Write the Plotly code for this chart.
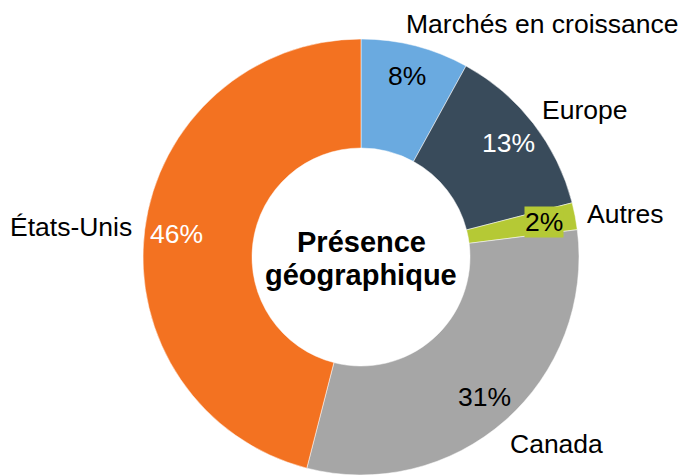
import math
import plotly.graph_objects as go

# ---- data ----
categories = ["Marchés en croissance", "Europe", "Autres", "Canada", "États-Unis"]
values = [8, 13, 2, 31, 46]
pct_labels = ["8%", "13%", "2%", "31%", "46%"]
center_title_lines = ["Présence", "géographique"]

# ---- style ----
colors = ["#6AAAE0", "#394B5B", "#B5C935", "#A6A6A6", "#F37221"]
pct_font_colors = ["#000000", "#FFFFFF", "#000000", "#000000", "#FFFFFF"]
pct_bg = [None, None, "#B5C935", None, None]
W, H = 683, 475
CX, CY, R = 361, 257, 218
LABEL_R = 0.855
FONT = "Liberation Sans, Arial, sans-serif"
FS = 26.5
TITLE_FS = 29
# outside category label positions (pixels, text centre)
cat_pos = [(541.5, 24), (584.5, 110), (625.5, 214), (556, 444), (71, 227)]
title_line_y = [242, 275]


def px_to_paper(x, y):
    return x / W, 1 - y / H


fig = go.Figure()
fig.add_trace(go.Pie(
    labels=categories,
    values=values,
    sort=False,
    direction="clockwise",
    rotation=0,
    hole=0.5,
    marker=dict(colors=colors, line=dict(color="white", width=0.5)),
    textinfo="none",
    hoverinfo="label+percent",
    showlegend=False,
    domain=dict(x=[(CX - R) / W, (CX + R) / W], y=[(H - CY - R) / H, (H - CY + R) / H]),
))

annotations = []
total = sum(values)
cum = 0
for i, v in enumerate(values):
    mid = (cum + v / 2) / total * 2 * math.pi
    cum += v
    px = CX + LABEL_R * R * math.sin(mid)
    py = CY - LABEL_R * R * math.cos(mid)
    xp, yp = px_to_paper(px, py)
    a = dict(x=xp, y=yp, xref="paper", yref="paper", text=pct_labels[i],
             showarrow=False, xanchor="center", yanchor="middle",
             font=dict(family=FONT, size=FS, color=pct_font_colors[i]))
    if pct_bg[i]:
        a["bgcolor"] = pct_bg[i]
        a["borderpad"] = 0
    annotations.append(a)

for name, (x, y) in zip(categories, cat_pos):
    xp, yp = px_to_paper(x, y)
    annotations.append(dict(x=xp, y=yp, xref="paper", yref="paper", text=name,
                            showarrow=False, xanchor="center", yanchor="middle",
                            font=dict(family=FONT, size=FS, color="#000000")))

for line, ly in zip(center_title_lines, title_line_y):
    xp, yp = px_to_paper(CX, ly)
    annotations.append(dict(x=xp, y=yp, xref="paper", yref="paper",
                            text="<b>" + line + "</b>", showarrow=False,
                            xanchor="center", yanchor="middle",
                            font=dict(family=FONT, size=TITLE_FS, color="#000000")))

fig.update_layout(
    width=W, height=H,
    margin=dict(l=0, r=0, t=0, b=0),
    paper_bgcolor="white", plot_bgcolor="white",
    annotations=annotations,
)

fig.write_html("out.html")
